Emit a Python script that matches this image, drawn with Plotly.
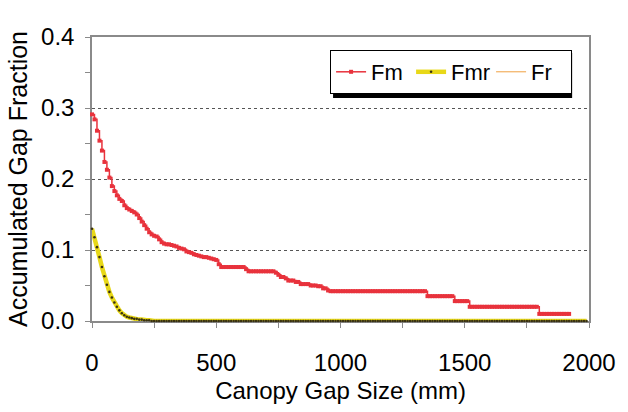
import plotly.graph_objects as go

# Canopy gap size grid (mm), one sample every 10 mm
gap_size = list(range(0, 2000, 10))

# Fm: accumulated gap fraction, ends at 1920 mm
fm = [
    0.291, 0.284, 0.268, 0.254, 0.240, 0.224, 0.213, 0.202, 0.190, 0.183,
    0.177, 0.172, 0.169, 0.163, 0.159, 0.157, 0.155, 0.153, 0.150, 0.145,
    0.140, 0.135, 0.130, 0.125, 0.122, 0.120, 0.119, 0.115, 0.111, 0.109,
    0.108, 0.108, 0.107, 0.106, 0.105, 0.103, 0.102, 0.101, 0.098, 0.097,
    0.096, 0.094, 0.093, 0.092, 0.091, 0.090, 0.090, 0.089, 0.088, 0.087,
    0.086, 0.080, 0.076, 0.076, 0.076, 0.076, 0.076, 0.076, 0.076, 0.076,
    0.076, 0.076, 0.073, 0.070, 0.070, 0.070, 0.070, 0.070, 0.070, 0.070,
    0.070, 0.070, 0.070, 0.070, 0.068, 0.065, 0.062, 0.062, 0.060, 0.057,
    0.057, 0.057, 0.055, 0.055, 0.052, 0.052, 0.052, 0.052, 0.050, 0.050,
    0.050, 0.049, 0.049, 0.046, 0.046, 0.043, 0.042, 0.042, 0.042, 0.042,
    0.042, 0.042, 0.042, 0.042, 0.042, 0.042, 0.042, 0.042, 0.042, 0.042,
    0.042, 0.042, 0.042, 0.042, 0.042, 0.042, 0.042, 0.042, 0.042, 0.042,
    0.042, 0.042, 0.042, 0.042, 0.042, 0.042, 0.042, 0.042, 0.042, 0.042,
    0.042, 0.042, 0.042, 0.042, 0.042, 0.035, 0.035, 0.035, 0.035, 0.035,
    0.035, 0.035, 0.035, 0.035, 0.035, 0.035, 0.028, 0.028, 0.028, 0.028,
    0.028, 0.028, 0.020, 0.020, 0.020, 0.020, 0.020, 0.020, 0.020, 0.020,
    0.020, 0.020, 0.020, 0.020, 0.020, 0.020, 0.020, 0.020, 0.020, 0.020,
    0.020, 0.020, 0.020, 0.020, 0.020, 0.020, 0.020, 0.020, 0.020, 0.020,
    0.010, 0.010, 0.010, 0.010, 0.010, 0.010, 0.010, 0.010, 0.010, 0.010,
    0.010, 0.010, 0.010,
]

# Fmr: accumulated gap fraction
fmr = [
    0.130, 0.118, 0.104, 0.090, 0.076, 0.063, 0.051, 0.041, 0.033, 0.026,
    0.020, 0.015, 0.011, 0.008, 0.006, 0.005, 0.004, 0.003, 0.003, 0.002,
    0.002, 0.001, 0.001, 0.001,
] + [0.0] * 176

# Fr: hidden beneath Fmr in the chart (coincident)
fr = list(fmr)

FONT = "Arial, Liberation Sans, sans-serif"
L, R, T, B = 92, 35, 37, 91
W, H = 628, 412
pw, ph = W - L - R, H - T - B


def px_x(p):
    return (p - L) / pw


def px_y(p):
    return (H - B - p) / ph


fig = go.Figure()
fig.add_trace(go.Scatter(
    x=gap_size[:len(fm)], y=fm, name="Fm", mode="lines+markers",
    line=dict(color="#e8323c", width=1.5, shape="hv"),
    marker=dict(symbol="square", size=4, color="#e8323c",
                line=dict(width=0)),
    cliponaxis=False, legendrank=1,
))
fig.add_trace(go.Scatter(
    x=gap_size, y=fr, name="Fr", mode="lines",
    line=dict(color="#f0a040", width=1),
    cliponaxis=False, legendrank=3,
))
fig.add_trace(go.Scatter(
    x=gap_size, y=fmr, name="Fmr", mode="lines+markers",
    line=dict(color="#e8d818", width=4.5),
    marker=dict(symbol="circle", size=2.6, color="#3a3210"),
    cliponaxis=False, legendrank=2,
))

axis_gray = "#8a8a8a"

# legend drop shadow (offset black box behind the legend)
fig.add_shape(type="rect", xref="paper", yref="paper",
              x0=px_x(335), x1=px_x(576), y0=px_y(98), y1=px_y(53),
              fillcolor="black", line=dict(width=0), layer="above")

fig.update_layout(
    width=W, height=H,
    margin=dict(l=L, r=R, t=T, b=B),
    paper_bgcolor="white", plot_bgcolor="white",
    font=dict(family=FONT, color="black"),
    showlegend=True,
    legend=dict(
        orientation="h", x=px_x(332), y=px_y(50),
        xanchor="left", yanchor="top",
        bgcolor="white", bordercolor="black", borderwidth=1,
        font=dict(size=22, family=FONT), itemwidth=30,
        entrywidth=35, entrywidthmode="pixels",
        traceorder="normal",
    ),
    xaxis=dict(
        range=[0, 2000], tickvals=[0, 500, 1000, 1500, 2000],
        ticks="outside", ticklen=5, tickcolor=axis_gray,
        showline=True, linecolor=axis_gray, linewidth=1.5, mirror=True,
        layer="below traces",
        showgrid=False, zeroline=False,
        tickfont=dict(size=24), ticklabelstandoff=14,
        minor=dict(dtick=250, ticks="outside", ticklen=5, tickcolor=axis_gray),
        title=dict(text="Canopy Gap Size (mm)", font=dict(size=24), standoff=8),
    ),
    yaxis=dict(
        range=[0, 0.4], dtick=0.1, tickformat=".1f",
        ticks="outside", ticklen=5, tickcolor=axis_gray,
        showline=True, linecolor=axis_gray, linewidth=1.5, mirror=True,
        layer="below traces",
        showgrid=True, gridcolor="#555555", griddash="dot", gridwidth=1,
        zeroline=False,
        tickfont=dict(size=24), ticklabelstandoff=6,
        minor=dict(dtick=0.05, ticks="outside", ticklen=5, tickcolor=axis_gray,
                   showgrid=False),
        title=dict(text="Accumulated Gap Fraction", font=dict(size=25), standoff=6),
    ),
    xaxis2=dict(
        overlaying="x", range=[0, 2000], dtick=250, ticks="inside",
        ticklen=4, tickcolor=axis_gray, showticklabels=False,
        showgrid=False, zeroline=False, showline=False, side="bottom",
    ),
    yaxis2=dict(
        overlaying="y", range=[0, 0.4], dtick=0.05, ticks="inside",
        ticklen=4, tickcolor=axis_gray, showticklabels=False,
        showgrid=False, zeroline=False, showline=False, side="left",
    ),
)

fig.write_html("out.html")
